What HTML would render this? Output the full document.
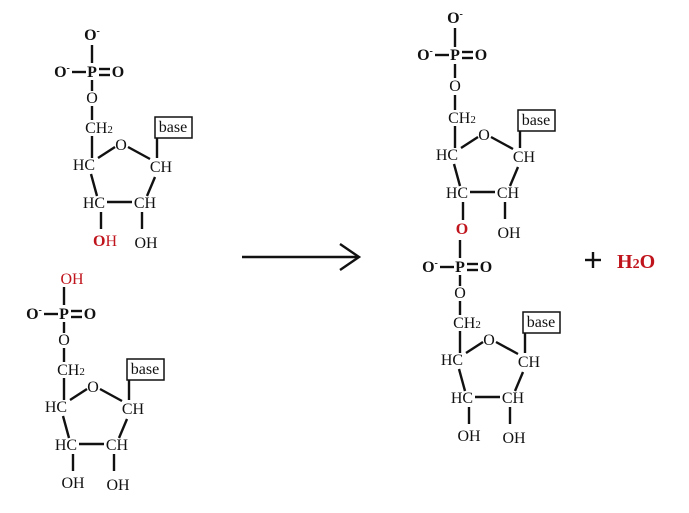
<!DOCTYPE html>
<html><head><meta charset="utf-8"><style>
html,body{margin:0;padding:0;background:#fff;}
svg{display:block;}
text{font-family:"Liberation Serif",serif;font-size:16px;fill:#111;}
.b{font-weight:bold;}
.r{fill:#c0141c;}
line,polyline{stroke:#111;stroke-width:2.4;fill:none;}
</style></head><body>
<svg width="689" height="513" viewBox="0 0 689 513" xmlns="http://www.w3.org/2000/svg">

<!-- Nucleotide 1 (top-left) -->
<g transform="translate(0,0)">
<text x="92" y="40" text-anchor="middle" class="b">O<tspan dy="-6" font-size="10">-</tspan></text>
<line x1="92" y1="45" x2="92" y2="63"/>
<text x="62" y="77" text-anchor="middle" class="b">O<tspan dy="-6" font-size="10">-</tspan></text>
<line x1="72" y1="72" x2="86" y2="72"/>
<text x="92" y="77" text-anchor="middle" class="b">P</text>
<line x1="99" y1="69" x2="110" y2="69"/><line x1="99" y1="75" x2="110" y2="75"/>
<text x="118" y="77" text-anchor="middle" class="b">O</text>
<line x1="92" y1="80" x2="92" y2="91"/>
<text x="92" y="103" text-anchor="middle">O</text>
<line x1="92" y1="106" x2="92" y2="120"/>
<text x="99" y="133" text-anchor="middle">CH<tspan font-size="11">2</tspan></text>
<line x1="92" y1="136" x2="92" y2="158"/>
<rect x="155" y="117" width="37" height="21" fill="none" stroke="#111" stroke-width="1.5"/>
<text x="173" y="132" text-anchor="middle">base</text>
<line x1="157" y1="138" x2="157" y2="158"/>
<text x="121" y="150" text-anchor="middle">O</text>
<line x1="98" y1="158" x2="115" y2="147"/>
<line x1="128" y1="147" x2="150" y2="159"/>
<text x="84" y="170" text-anchor="middle">HC</text>
<text x="161" y="172" text-anchor="middle">CH</text>
<line x1="91" y1="174" x2="97" y2="196"/>
<line x1="155" y1="177" x2="147" y2="196"/>
<text x="94" y="208" text-anchor="middle">HC</text>
<line x1="107" y1="202" x2="132" y2="202"/>
<text x="145" y="208" text-anchor="middle">CH</text>
<line x1="101" y1="212" x2="101" y2="229"/>
<line x1="142" y1="212" x2="142" y2="229"/>
<text x="105" y="246" text-anchor="middle" class="b r">O<tspan style="font-weight:normal">H</tspan></text>
<text x="146" y="248" text-anchor="middle">OH</text>
</g>

<!-- Nucleotide 2 (bottom-left) -->
<g transform="translate(-28,242)">
<text x="100" y="42" text-anchor="middle" class="r">OH</text>
<line x1="92" y1="45" x2="92" y2="63"/>
<text x="62" y="77" text-anchor="middle" class="b">O<tspan dy="-6" font-size="10">-</tspan></text>
<line x1="72" y1="72" x2="86" y2="72"/>
<text x="92" y="77" text-anchor="middle" class="b">P</text>
<line x1="99" y1="69" x2="110" y2="69"/><line x1="99" y1="75" x2="110" y2="75"/>
<text x="118" y="77" text-anchor="middle" class="b">O</text>
<line x1="92" y1="80" x2="92" y2="91"/>
<text x="92" y="103" text-anchor="middle">O</text>
<line x1="92" y1="106" x2="92" y2="120"/>
<text x="99" y="133" text-anchor="middle">CH<tspan font-size="11">2</tspan></text>
<line x1="92" y1="136" x2="92" y2="158"/>
<rect x="155" y="117" width="37" height="21" fill="none" stroke="#111" stroke-width="1.5"/>
<text x="173" y="132" text-anchor="middle">base</text>
<line x1="157" y1="138" x2="157" y2="158"/>
<text x="121" y="150" text-anchor="middle">O</text>
<line x1="98" y1="158" x2="115" y2="147"/>
<line x1="128" y1="147" x2="150" y2="159"/>
<text x="84" y="170" text-anchor="middle">HC</text>
<text x="161" y="172" text-anchor="middle">CH</text>
<line x1="91" y1="174" x2="97" y2="196"/>
<line x1="155" y1="177" x2="147" y2="196"/>
<text x="94" y="208" text-anchor="middle">HC</text>
<line x1="107" y1="202" x2="132" y2="202"/>
<text x="145" y="208" text-anchor="middle">CH</text>
<line x1="101" y1="212" x2="101" y2="229"/>
<line x1="142" y1="212" x2="142" y2="229"/>
<text x="101" y="246" text-anchor="middle">OH</text>
<text x="146" y="248" text-anchor="middle">OH</text>
</g>

<!-- Arrow -->
<line x1="242" y1="257" x2="358" y2="257" stroke-width="3"/>
<polyline points="340,244 359,257 340,270" stroke-width="3"/>

<!-- Product top -->
<g transform="translate(363,-10)">
<text x="92" y="33" text-anchor="middle" class="b">O<tspan dy="-6" font-size="10">-</tspan></text>
<line x1="92" y1="38" x2="92" y2="57"/>
<text x="62" y="70" text-anchor="middle" class="b">O<tspan dy="-6" font-size="10">-</tspan></text>
<line x1="72" y1="65" x2="86" y2="65"/>
<text x="92" y="70" text-anchor="middle" class="b">P</text>
<line x1="99" y1="62" x2="110" y2="62"/><line x1="99" y1="68" x2="110" y2="68"/>
<text x="118" y="70" text-anchor="middle" class="b">O</text>
<line x1="92" y1="74" x2="92" y2="88"/>
<text x="92" y="101" text-anchor="middle">O</text>
<line x1="92" y1="105" x2="92" y2="120"/>
<text x="99" y="133" text-anchor="middle">CH<tspan font-size="11">2</tspan></text>
<line x1="92" y1="136" x2="92" y2="158"/>
<rect x="155" y="120" width="37" height="21" fill="none" stroke="#111" stroke-width="1.5"/>
<text x="173" y="135" text-anchor="middle">base</text>
<line x1="157" y1="141" x2="157" y2="158"/>
<text x="121" y="150" text-anchor="middle">O</text>
<line x1="98" y1="158" x2="115" y2="147"/>
<line x1="128" y1="147" x2="150" y2="159"/>
<text x="84" y="170" text-anchor="middle">HC</text>
<text x="161" y="172" text-anchor="middle">CH</text>
<line x1="91" y1="174" x2="97" y2="196"/>
<line x1="155" y1="177" x2="147" y2="196"/>
<text x="94" y="208" text-anchor="middle">HC</text>
<line x1="107" y1="202" x2="132" y2="202"/>
<text x="145" y="208" text-anchor="middle">CH</text>
<line x1="100" y1="212" x2="100" y2="230"/>
<line x1="142" y1="212" x2="142" y2="229"/>
<text x="146" y="248" text-anchor="middle">OH</text>
</g>

<!-- Product bottom -->
<g transform="translate(368,195)">
<text x="94" y="39" text-anchor="middle" class="b r">O</text>
<line x1="92" y1="45" x2="92" y2="63"/>
<text x="62" y="77" text-anchor="middle" class="b">O<tspan dy="-6" font-size="10">-</tspan></text>
<line x1="72" y1="72" x2="86" y2="72"/>
<text x="92" y="77" text-anchor="middle" class="b">P</text>
<line x1="99" y1="69" x2="110" y2="69"/><line x1="99" y1="75" x2="110" y2="75"/>
<text x="118" y="77" text-anchor="middle" class="b">O</text>
<line x1="92" y1="80" x2="92" y2="91"/>
<text x="92" y="103" text-anchor="middle">O</text>
<line x1="92" y1="106" x2="92" y2="120"/>
<text x="99" y="133" text-anchor="middle">CH<tspan font-size="11">2</tspan></text>
<line x1="92" y1="136" x2="92" y2="158"/>
<rect x="155" y="117" width="37" height="21" fill="none" stroke="#111" stroke-width="1.5"/>
<text x="173" y="132" text-anchor="middle">base</text>
<line x1="157" y1="138" x2="157" y2="158"/>
<text x="121" y="150" text-anchor="middle">O</text>
<line x1="98" y1="158" x2="115" y2="147"/>
<line x1="128" y1="147" x2="150" y2="159"/>
<text x="84" y="170" text-anchor="middle">HC</text>
<text x="161" y="172" text-anchor="middle">CH</text>
<line x1="91" y1="174" x2="97" y2="196"/>
<line x1="155" y1="177" x2="147" y2="196"/>
<text x="94" y="208" text-anchor="middle">HC</text>
<line x1="107" y1="202" x2="132" y2="202"/>
<text x="145" y="208" text-anchor="middle">CH</text>
<line x1="101" y1="212" x2="101" y2="229"/>
<line x1="142" y1="212" x2="142" y2="229"/>
<text x="101" y="246" text-anchor="middle">OH</text>
<text x="146" y="248" text-anchor="middle">OH</text>
</g>

<!-- + H2O -->
<line x1="585" y1="260" x2="601" y2="260" stroke-width="2"/>
<line x1="593" y1="252" x2="593" y2="268" stroke-width="2"/>
<text x="617" y="268" class="b r" style="font-size:20px;">H<tspan font-size="14">2</tspan>O</text>
</svg>
</body></html>
